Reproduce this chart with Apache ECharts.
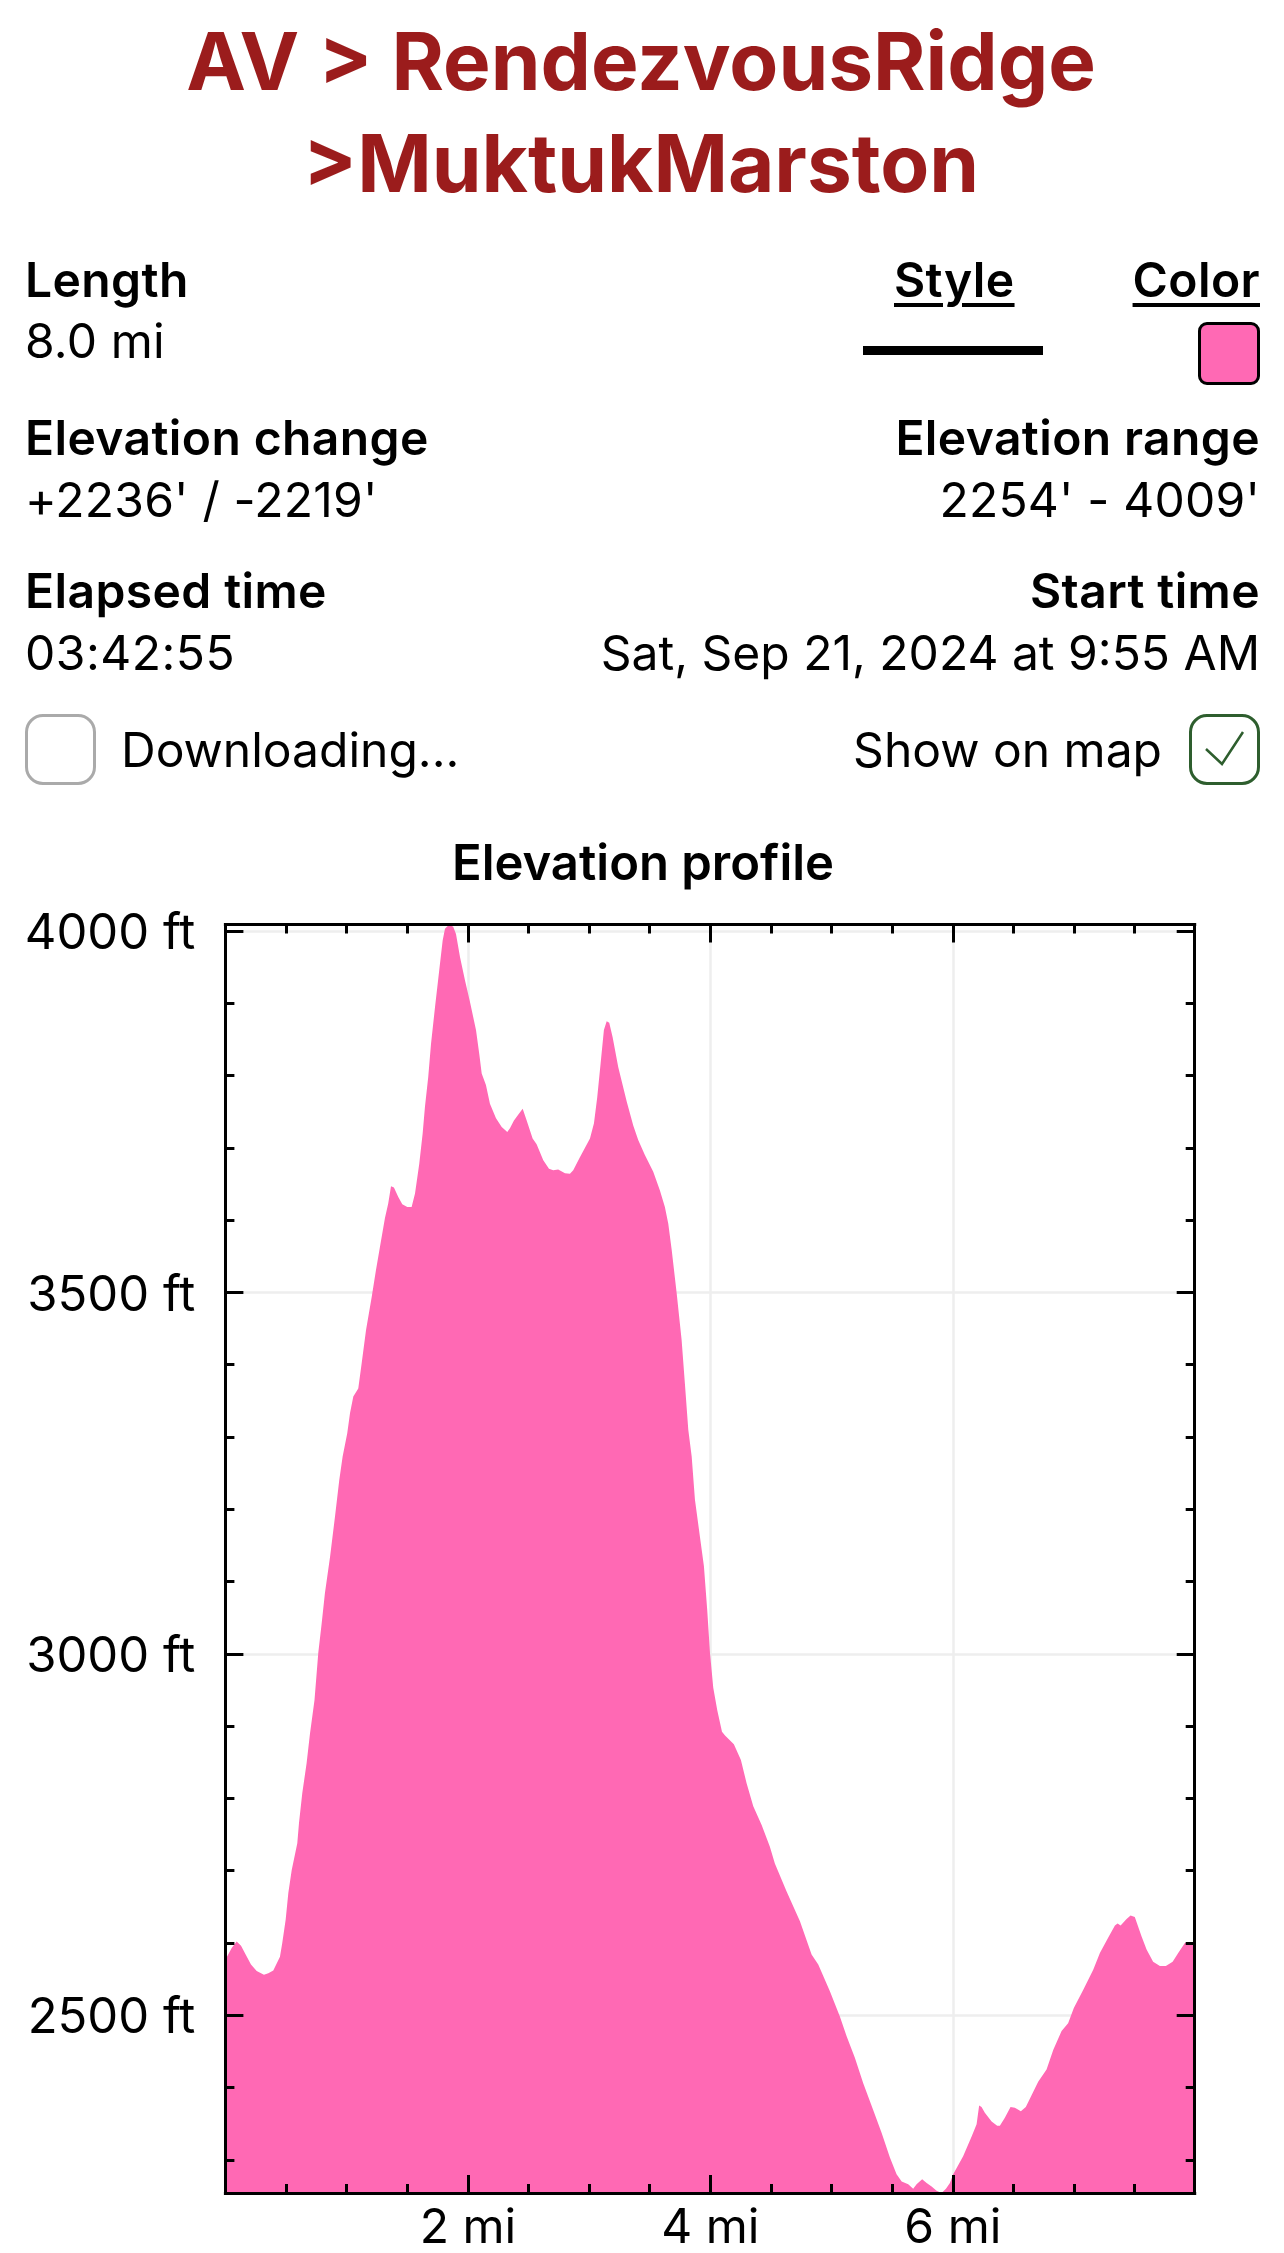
<!DOCTYPE html>
<html>
<head>
<meta charset="utf-8">
<title>Elevation profile</title>
<script src="https://cdn.jsdelivr.net/npm/echarts@6/dist/echarts.min.js"></script>
<style>
  html, body { margin: 0; padding: 0; background: #fff; }
  #page { position: relative; width: 1284px; height: 2253px; overflow: hidden; font-family: Inter, "Noto Sans", sans-serif; color: #000; }
  #chart { position: absolute; left: 0; top: 0; width: 1284px; height: 2253px; }
  .t { position: absolute; white-space: nowrap; font-size: 48px; line-height: 60px; letter-spacing: 0.2px; }
  .b { font-weight: 600; letter-spacing: 0.4px; }
  .n { letter-spacing: 0; }
  .l { left: 25px; }
  .r { right: 24px; }
  .title { left: -1px; width: 1284px; text-align: center; font-size: 80px; line-height: 102px; font-weight: 700; color: #9b1c1c; letter-spacing: 0; }
  .u { text-decoration: underline; text-decoration-thickness: 4px; text-underline-offset: 6px; }
  .box { position: absolute; box-sizing: border-box; }
</style>
</head>
<body>
<div id="page">
  <div id="chart"></div>

  <div class="t title" style="top:10px">AV &gt; RendezvousRidge</div>
  <div class="t title" style="top:112px">&gt;MuktukMarston</div>

  <div class="t b l" style="top:250px">Length</div>
  <div class="t l" style="top:311px">8.0 mi</div>
  <div class="t b u" style="top:250px;left:894px">Style</div>
  <div class="t b u r" style="top:250px">Color</div>
  <div class="box" style="left:863px;top:346px;width:180px;height:9px;background:#000"></div>
  <div class="box" style="left:1198px;top:322px;width:62px;height:63px;background:#ff69b4;border:3px solid #000;border-radius:9px"></div>

  <div class="t b l" style="top:408px">Elevation change</div>
  <div class="t l" style="top:470px">+2236' / -2219'</div>
  <div class="t b r" style="top:408px">Elevation range</div>
  <div class="t r" style="top:470px">2254' - 4009'</div>

  <div class="t b l" style="top:561px">Elapsed time</div>
  <div class="t l" style="top:623px;letter-spacing:0.5px">03:42:55</div>
  <div class="t b r" style="top:561px">Start time</div>
  <div class="t n r" style="top:623px">Sat, Sep 21, 2024 at 9:55 AM</div>

  <div class="box" style="left:25px;top:714px;width:71px;height:71px;border:3px solid #aaa;border-radius:18px"></div>
  <div class="t n" style="top:720px;left:121px">Downloading...</div>
  <div class="t n r" style="top:720px;right:122px">Show on map</div>
  <div class="box" style="left:1189px;top:714px;width:71px;height:71px;border:3px solid #2e5e2e;border-radius:18px"></div>
  <svg class="box" style="left:1189px;top:714px" width="71" height="71"><polyline points="17,35 33,50 54,18" fill="none" stroke="#2e5e2e" stroke-width="2.5"/></svg>
</div>

<script>
// miles along the track, feet of elevation
const distanceMi = [
  0, 0.013, 0.052, 0.093, 0.129, 0.167, 0.211, 0.258, 0.318, 0.354, 0.395, 0.45, 0.469, 0.497, 0.519, 0.547,
  0.593, 0.607, 0.634, 0.67, 0.698, 0.735, 0.766, 0.794, 0.821, 0.863, 0.904, 0.939, 0.967, 1.005, 1.028, 1.055,
  1.096, 1.124, 1.16, 1.207, 1.242, 1.275, 1.316, 1.343, 1.366, 1.39, 1.426, 1.459, 1.5, 1.536, 1.564, 1.599,
  1.627, 1.646, 1.673, 1.696, 1.729, 1.764, 1.792, 1.811, 1.846, 1.879, 1.902, 1.935, 1.976, 2.017, 2.067, 2.094,
  2.114, 2.149, 2.182, 2.232, 2.279, 2.325, 2.347, 2.38, 2.421, 2.452, 2.485, 2.534, 2.567, 2.622, 2.669, 2.704,
  2.745, 2.801, 2.842, 2.869, 2.924, 3.007, 3.04, 3.067, 3.095, 3.122, 3.145, 3.166, 3.194, 3.24, 3.31, 3.364,
  3.405, 3.46, 3.529, 3.584, 3.625, 3.653, 3.681, 3.722, 3.763, 3.79, 3.818, 3.846, 3.873, 3.914, 3.947, 3.974,
  3.997, 4.024, 4.057, 4.096, 4.121, 4.194, 4.252, 4.299, 4.354, 4.423, 4.491, 4.532, 4.629, 4.739, 4.835, 4.89,
  4.986, 5.069, 5.124, 5.192, 5.261, 5.343, 5.413, 5.481, 5.536, 5.578, 5.632, 5.673, 5.701, 5.747, 5.784, 5.825,
  5.866, 5.907, 5.943, 5.976, 6.003, 6.085, 6.155, 6.196, 6.217, 6.237, 6.264, 6.32, 6.366, 6.388, 6.429, 6.476,
  6.512, 6.561, 6.602, 6.704, 6.773, 6.828, 6.897, 6.951, 6.998, 7.075, 7.158, 7.213, 7.281, 7.337, 7.359, 7.384,
  7.433, 7.466, 7.501, 7.557, 7.598, 7.652, 7.708, 7.757, 7.813, 7.859, 7.914, 7.982, 7.995
]
const elevationFt = [
  2575, 2581, 2593, 2602, 2596, 2584, 2570, 2561, 2556, 2558, 2562, 2581, 2600, 2632, 2669, 2701,
  2738, 2766, 2807, 2849, 2890, 2936, 3001, 3042, 3084, 3134, 3190, 3240, 3273, 3305, 3333, 3356,
  3367, 3402, 3448, 3494, 3531, 3563, 3603, 3623, 3647, 3645, 3632, 3622, 3618, 3618, 3637, 3678,
  3720, 3757, 3798, 3844, 3895, 3946, 3987, 4003, 4009, 4006, 3996, 3964, 3932, 3902, 3863, 3830,
  3803, 3787, 3761, 3741, 3729, 3722, 3727, 3738, 3747, 3754, 3738, 3713, 3705, 3683, 3671, 3669,
  3670, 3665, 3664, 3669, 3687, 3713, 3734, 3770, 3817, 3863, 3875, 3873, 3853, 3812, 3764, 3731,
  3711, 3690, 3667, 3641, 3618, 3595, 3559, 3499, 3434, 3374, 3310, 3273, 3213, 3162, 3121, 3061,
  3001, 2953, 2922, 2892, 2887, 2875, 2853, 2821, 2789, 2763, 2733, 2710, 2671, 2630, 2584, 2570,
  2533, 2498, 2471, 2441, 2406, 2369, 2337, 2303, 2280, 2270, 2266, 2260, 2266, 2273, 2268, 2263,
  2257, 2254, 2260, 2268, 2280, 2305, 2332, 2349, 2375, 2373, 2365, 2353, 2347, 2347, 2358, 2373,
  2372, 2367, 2373, 2408, 2425, 2452, 2478, 2489, 2510, 2535, 2563, 2586, 2607, 2624, 2627, 2624,
  2633, 2638, 2636, 2609, 2591, 2574, 2568, 2568, 2574, 2586, 2600, 2601, 2601
]
const xMajorTicks = [2, 4, 6]
const xMinorTicks = [0.5, 1, 1.5, 2.5, 3, 3.5, 4.5, 5, 5.5, 6.5, 7, 7.5]
const yMajorTicks = [2500, 3000, 3500, 4000]
const yMinorTicks = [2300, 2400, 2600, 2700, 2800, 2900, 3100, 3200, 3300, 3400, 3600, 3700, 3800, 3900]
const xRange = [0, 7.995]
const yRange = [2254, 4009]

// one axis of ticks; axes without data need the range spelled out
function tickAxis(position, range, ticks, length, withLine, label) {
  return {
    type: 'value',
    position: position,
    min: range[0],
    max: range[1],
    z: 5,
    axisLine: { show: withLine, onZero: false, lineStyle: { color: '#000', width: 3, cap: 'square' } },
    axisTick: { show: true, inside: true, length: length, customValues: ticks, lineStyle: { color: '#000', width: 3 } },
    axisLabel: label
      ? { show: true, customValues: ticks, fontFamily: 'Inter', color: '#000', ...label }
      : { show: false },
    splitLine: { show: false }
  }
}

// bottom layer: only the grid lines, so the area paints over them
function gridAxis(position, range, ticks) {
  return {
    type: 'value',
    position: position,
    min: range[0],
    max: range[1],
    z: 0,
    axisLine: { show: false, onZero: false },
    axisTick: { show: false, customValues: ticks },
    axisLabel: { show: false },
    splitLine: { show: true, lineStyle: { color: '#eeeeee', width: 2.5 } }
  }
}

const myChart = echarts.init(document.getElementById('chart'))
myChart.setOption({
  animation: false,
  title: {
    text: 'Elevation profile',
    left: 638,
    top: 836,
    textAlign: 'center',
    textStyle: { fontFamily: 'Inter', fontSize: 49, fontWeight: 600, color: '#000' }
  },
  grid: { left: 225.4, top: 924.5, width: 969.3, height: 1268.5, outerBoundsMode: 'none' },
  xAxis: [
    gridAxis('bottom', xRange, xMajorTicks),
    tickAxis('bottom', xRange, xMajorTicks, 18, true, { formatter: v => v + ' mi', fontSize: 48, margin: 12 }),
    tickAxis('bottom', xRange, xMinorTicks, 9, false),
    tickAxis('top', xRange, xMajorTicks, 18, true),
    tickAxis('top', xRange, xMinorTicks, 9, false)
  ],
  yAxis: [
    gridAxis('left', yRange, yMajorTicks),
    tickAxis('left', yRange, yMajorTicks, 18, true, {
      formatter: v => '{v|' + v + ' ft}',
      margin: 30,
      rich: { v: { fontFamily: 'Inter', fontSize: 49, color: '#000', padding: [7, 0, 0, 0] } }
    }),
    tickAxis('left', yRange, yMinorTicks, 9, false),
    tickAxis('right', yRange, yMajorTicks, 18, true),
    tickAxis('right', yRange, yMinorTicks, 9, false)
  ],
  series: [
    {
      type: 'line',
      showSymbol: false,
      silent: true,
      z: 2,
      lineStyle: { width: 0 },
      areaStyle: { color: '#ff69b4', opacity: 1 },
      data: distanceMi.map((d, i) => [d, elevationFt[i]])
    }
  ]
})
</script>
</body>
</html>
